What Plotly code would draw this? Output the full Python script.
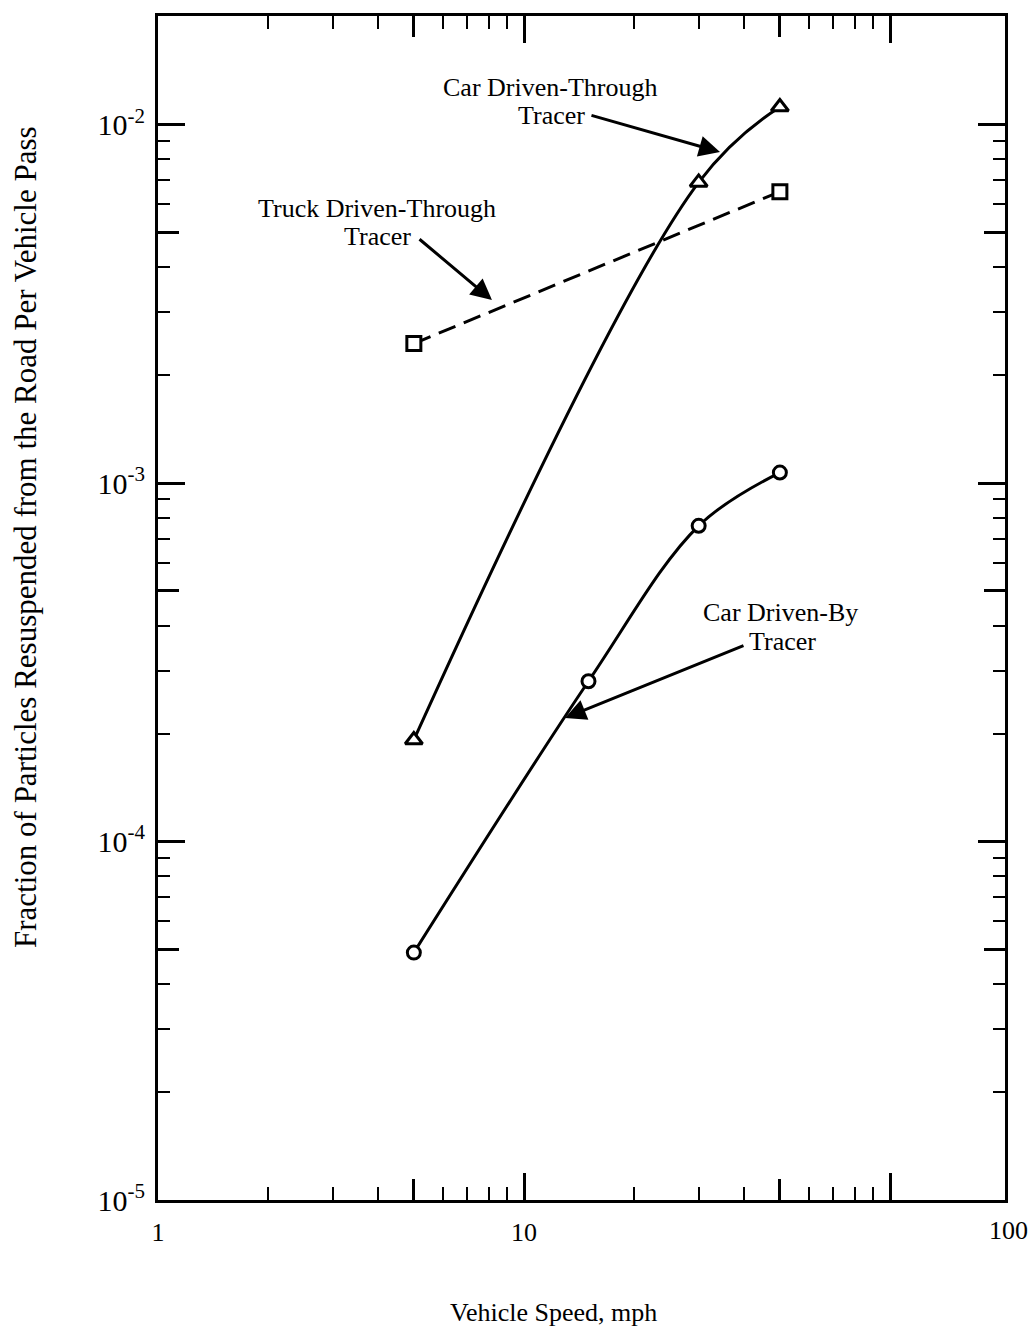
import plotly.graph_objects as go

# Resuspension measurements (fraction of particles per vehicle pass vs speed)
speed_car_through = [5, 30, 50]
frac_car_through = [1.92e-4, 6.9e-3, 1.12e-2]

speed_truck_through = [5, 50]
frac_truck_through = [2.45e-3, 6.5e-3]

speed_car_by = [5, 15, 30, 50]
frac_car_by = [4.9e-5, 2.8e-4, 7.6e-4, 1.07e-3]

# Axis tick positions
x_major = [1, 10, 100]
x_major_text = ["1", "10", ""]
x_mid = [5, 50]
x_minor = [2, 3, 4, 6, 7, 8, 9, 20, 30, 40, 60, 70, 80, 90]

y_major = [1e-5, 1e-4, 1e-3, 1e-2]
y_major_text = ["10<sup>-5</sup>", "10<sup>-4</sup>", "10<sup>-3</sup>", "10<sup>-2</sup>"]
y_mid = [5e-5, 5e-4, 5e-3]
y_minor = [m * 10.0 ** e for e in (-5, -4, -3) for m in (2, 3, 4, 6, 7, 8, 9)]

X_RANGE = [0, 2.314]
Y_RANGE = [-5, -1.697]

FONT = "Liberation Serif"
INK = "black"

fig = go.Figure()

marker_line = dict(color=INK, width=3)

fig.add_trace(go.Scatter(
    x=speed_truck_through, y=frac_truck_through, mode="lines+markers",
    line=dict(color=INK, width=3, dash="18px,9px"),
    marker=dict(symbol="square", size=14, color="white", line=marker_line),
    showlegend=False))

fig.add_trace(go.Scatter(
    x=speed_car_through, y=frac_car_through, mode="lines+markers",
    line=dict(color=INK, width=3, shape="spline", smoothing=1.1),
    marker=dict(symbol="triangle-up", size=15, color="white", line=marker_line),
    showlegend=False))

fig.add_trace(go.Scatter(
    x=speed_car_by, y=frac_car_by, mode="lines+markers",
    line=dict(color=INK, width=3, shape="spline", smoothing=1.0),
    marker=dict(symbol="circle", size=13, color="white", line=marker_line),
    showlegend=False))

# Invisible anchor for the overlay axes carrying the mid-length ticks
fig.add_trace(go.Scatter(
    x=[10], y=[1e-3], xaxis="x2", yaxis="y2", mode="markers",
    marker=dict(opacity=0), hoverinfo="skip", showlegend=False))

common_axis = dict(
    type="log", showgrid=False, zeroline=False,
    ticks="inside", mirror="ticks", tickcolor=INK,
    showline=True, linecolor=INK, linewidth=3,
)

fig.update_layout(
    width=1036, height=1332,
    margin=dict(l=158, r=31, t=16, b=132),
    paper_bgcolor="white", plot_bgcolor="white",
    font=dict(family=FONT, color=INK, size=22),
    xaxis=dict(
        **common_axis, range=X_RANGE,
        tickmode="array", tickvals=x_major, ticktext=x_major_text,
        ticklen=27, tickwidth=2.5, ticklabelstandoff=7,
        tickfont=dict(family=FONT, size=26, color=INK),
        minor=dict(ticks="inside", tickvals=x_minor, ticklen=13,
                   tickwidth=2, tickcolor=INK, showgrid=False),
    ),
    yaxis=dict(
        **common_axis, range=Y_RANGE,
        tickmode="array", tickvals=y_major, ticktext=y_major_text,
        ticklen=27, tickwidth=2.5, ticklabelstandoff=4,
        tickfont=dict(family=FONT, size=30, color=INK),
        minor=dict(ticks="inside", tickvals=y_minor, ticklen=12,
                   tickwidth=2, tickcolor=INK, showgrid=False),
    ),
    xaxis2=dict(
        **common_axis, range=X_RANGE, overlaying="x", anchor="y2",
        tickmode="array", tickvals=x_mid, ticklen=21, tickwidth=2.5,
        showticklabels=False,
    ),
    yaxis2=dict(
        **common_axis, range=Y_RANGE, overlaying="y", anchor="x2",
        tickmode="array", tickvals=y_mid, ticklen=21, tickwidth=2.5,
        showticklabels=False,
    ),
)


def place_text(text, px, py, size, angle=0):
    """Centre a text at a pixel position inside the 1036x1332 page."""
    fig.add_annotation(
        text=text, x=(px - 158) / 847, y=(1200 - py) / 1184,
        xref="x domain", yref="y domain", xanchor="center", yanchor="middle",
        textangle=angle, showarrow=False,
        font=dict(family=FONT, size=size, color=INK))


# Curve labels
place_text("Car Driven-Through", 550, 87, 26)
place_text("Tracer", 551, 116, 26)
place_text("Truck Driven-Through", 377, 208, 26)
place_text("Tracer", 377, 237, 26)
place_text("Car Driven-By", 780, 612, 26)
place_text("Tracer", 782, 641, 26)

# Leader arrows from labels to curves
arrows = [
    ((0.510, 0.9164), (0.6635, 0.8851)),
    ((0.307, 0.8125), (0.3943, 0.7601)),
    ((0.693, 0.4688), (0.4805, 0.4071)),
]
for (tx, ty), (hx, hy) in arrows:
    fig.add_annotation(
        text="", x=hx, y=hy, ax=tx, ay=ty,
        xref="x domain", yref="y domain", axref="x domain", ayref="y domain",
        showarrow=True, arrowhead=2, arrowsize=1.4, arrowwidth=3,
        arrowcolor=INK, standoff=0, startstandoff=0)

# Right-hand end label of the speed axis
place_text("100", 1008, 1230, 26)

# Axis titles
place_text("Vehicle Speed, mph", 553, 1312, 26)
place_text("Fraction of Particles Resuspended from the Road Per Vehicle Pass",
           25, 537, 31, angle=-90)

fig.write_html("out.html")
